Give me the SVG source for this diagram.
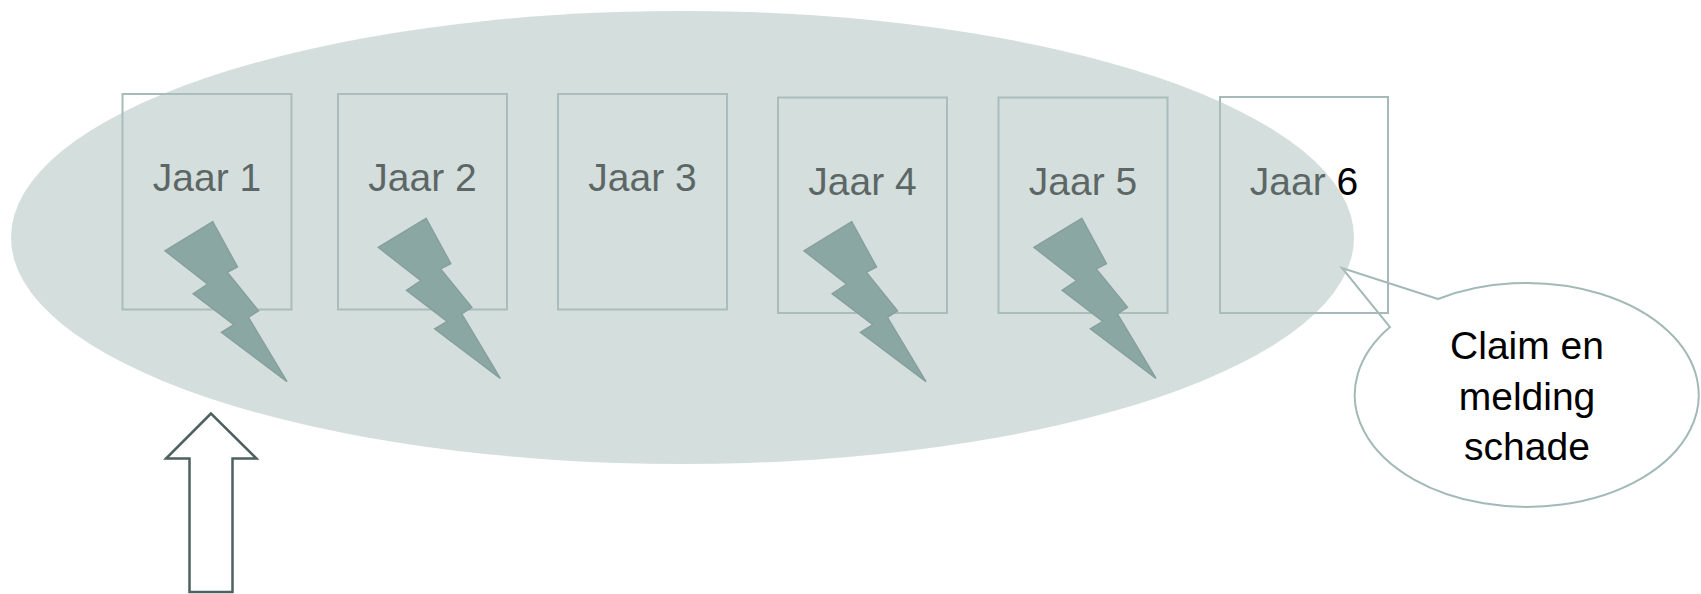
<svg xmlns="http://www.w3.org/2000/svg" xmlns:xlink="http://www.w3.org/1999/xlink" width="1701" height="594" viewBox="0 0 1701 594">
  <style>
    .box { fill: none; stroke: #a6bab9; stroke-width: 2; }
    .lbl { font-family: "Liberation Sans", Arial, sans-serif; font-size: 39px; fill: #000000; text-anchor: middle; }
    .bolt { fill: #648a86; stroke: #587c78; stroke-width: 1.5; stroke-linejoin: miter; }
    .callout { fill: #ffffff; stroke: #a3b9b8; stroke-width: 2; }
    .arrow { fill: #ffffff; stroke: #4e6060; stroke-width: 2.5; stroke-linejoin: miter; }
    .overlay { fill: #adc0bf; fill-opacity: 0.53; stroke: none; }
  </style>
  <defs>
    <path id="bolt" d="M47.77,0 L0,29.06 L42.72,62.34 L28.2,72 L68.89,102.99 L56.41,110.62 L122,160 L83.41,95.64 L93.52,89.01 L62.3,50.6 L72.47,45.33 Z"/>
  </defs>
  <rect width="1701" height="594" fill="#ffffff"/>

  <g id="callout">
    <path class="callout" d="M1438,299 L1342,268 L1390,327 A172,112 0 1 0 1438,299 Z"/>
    <text class="lbl" x="1527" y="359">Claim en</text>
    <text class="lbl" x="1527" y="410">melding</text>
    <text class="lbl" x="1527" y="460">schade</text>
  </g>

  <g id="jaar1">
    <rect class="box" x="122.5" y="94" width="169" height="215.5"/>
    <text class="lbl" x="207" y="191">Jaar 1</text>
    <use xlink:href="#bolt" href="#bolt" class="bolt" transform="translate(165,221.7)"/>
  </g>
  <g id="jaar2">
    <rect class="box" x="338" y="94" width="169" height="215.5"/>
    <text class="lbl" x="422.5" y="191">Jaar 2</text>
    <use xlink:href="#bolt" href="#bolt" class="bolt" transform="translate(378.3,218.3)"/>
  </g>
  <g id="jaar3">
    <rect class="box" x="558" y="94" width="169" height="215.5"/>
    <text class="lbl" x="642.5" y="191">Jaar 3</text>
  </g>
  <g id="jaar4">
    <rect class="box" x="778" y="97.5" width="169" height="215.5"/>
    <text class="lbl" x="862.5" y="195">Jaar 4</text>
    <use xlink:href="#bolt" href="#bolt" class="bolt" transform="translate(804,221.7)"/>
  </g>
  <g id="jaar5">
    <rect class="box" x="998.5" y="97.5" width="169" height="215.5"/>
    <text class="lbl" x="1083" y="195">Jaar 5</text>
    <use xlink:href="#bolt" href="#bolt" class="bolt" transform="translate(1034,218.3)"/>
  </g>
  <g id="jaar6">
    <rect class="box" x="1220" y="97" width="168" height="216"/>
    <text class="lbl" x="1304" y="195">Jaar 6</text>
  </g>

  <g id="periode">
    <ellipse class="overlay" cx="682.5" cy="237.5" rx="671.5" ry="226.5"/>
  </g>

  <g id="connectors">
    <path class="arrow" d="M211,413.5 L166,458.5 L189.5,458.5 L189.5,592 L232.5,592 L232.5,458.5 L256.5,458.5 Z"/>
  </g>
</svg>
